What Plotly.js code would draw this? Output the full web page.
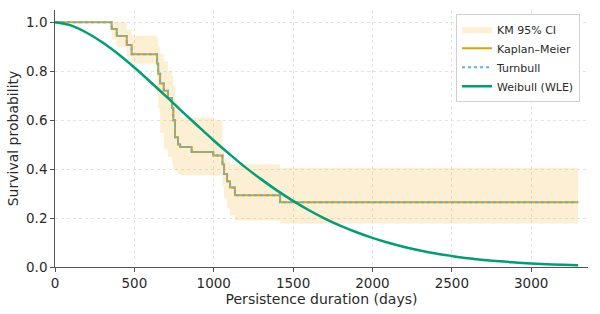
<!DOCTYPE html>
<html>
<head>
<meta charset="utf-8">
<script src="https://cdn.plot.ly/plotly-3.0.1.min.js"></script>
<style>html,body{margin:0;padding:0;background:#fff;}#chart{width:600px;height:314px;}</style>
</head>
<body>
<div id="chart"></div>
<script>
// Kaplan-Meier step data (days, survival, 95% CI)
const kmTimes = [0, 357, 389, 452, 483, 643, 650, 662, 685, 712, 737, 745, 756, 775, 788, 861, 997, 1055, 1065, 1084, 1103, 1134, 1418];
const kmSurv  = [1.0, 0.972, 0.944, 0.907, 0.869, 0.83, 0.79, 0.75, 0.72, 0.69, 0.65, 0.60, 0.53, 0.50, 0.49, 0.47, 0.456, 0.42, 0.38, 0.35, 0.325, 0.293, 0.265];
const kmUpper = [1.0, 1.0, 1.0, 0.97, 0.946, 0.93, 0.90, 0.87, 0.84, 0.80, 0.78, 0.74, 0.68, 0.64, 0.61, 0.61, 0.60, 0.47, 0.44, 0.43, 0.42, 0.42, 0.404];
const kmLower = [1.0, 0.93, 0.90, 0.86, 0.83, 0.70, 0.65, 0.55, 0.48, 0.45, 0.42, 0.40, 0.39, 0.38, 0.375, 0.374, 0.374, 0.33, 0.28, 0.24, 0.21, 0.19, 0.178];
const turnbullSurv = [1.0, 0.972, 0.944, 0.907, 0.869, 0.83, 0.79, 0.75, 0.72, 0.69, 0.65, 0.60, 0.53, 0.50, 0.49, 0.47, 0.456, 0.42, 0.38, 0.35, 0.325, 0.293, 0.265];
const lastTime = 3296;

// Weibull (WLE) fitted curve, every 100 days
const weibullTimes = [0,100,200,300,400,500,600,700,800,900,1000,1100,1200,1300,1400,1500,1600,1700,1800,1900,2000,2100,2200,2300,2400,2500,2600,2700,2800,2900,3000,3100,3200,3296];
const weibullSurv  = [1.0,0.987,0.957,0.917,0.869,0.815,0.757,0.697,0.636,0.576,0.517,0.461,0.407,0.358,0.312,0.270,0.232,0.198,0.168,0.142,0.119,0.099,0.082,0.0675,0.055,0.045,0.036,0.029,0.023,0.0186,0.0146,0.0115,0.009,0.007];

const xTicks = [0, 500, 1000, 1500, 2000, 2500, 3000];
const yTicks = [0, 0.2, 0.4, 0.6, 0.8, 1.0];
const yTickText = ['0.0', '0.2', '0.4', '0.6', '0.8', '1.0'];

// build step polygon for the CI band
function stepPath(ts, vs, end) {
  const xs = [], ys = [];
  for (let i = 0; i < ts.length; i++) {
    const tNext = i + 1 < ts.length ? ts[i + 1] : end;
    xs.push(ts[i], tNext);
    ys.push(vs[i], vs[i]);
  }
  return {xs, ys};
}
const up = stepPath(kmTimes, kmUpper, lastTime);
const lo = stepPath(kmTimes, kmLower, lastTime);
const bandX = up.xs.concat(lo.xs.slice().reverse());
const bandY = up.ys.concat(lo.ys.slice().reverse());

const kmX = kmTimes.concat([lastTime]);
const kmY = kmSurv.concat([kmSurv[kmSurv.length - 1]]);
const tbY = turnbullSurv.concat([turnbullSurv[turnbullSurv.length - 1]]);

const traces = [
  {x: bandX, y: bandY, type: 'scatter', mode: 'lines', fill: 'toself',
   fillcolor: 'rgba(240,180,60,0.22)', line: {width: 0, color: 'rgba(0,0,0,0)'},
   name: 'KM 95% CI', hoverinfo: 'skip'},
  {x: kmX, y: kmY, type: 'scatter', mode: 'lines', line: {shape: 'hv', color: '#E69F00', width: 2},
   name: 'Kaplan\u2013Meier'},
  {x: kmX, y: tbY, type: 'scatter', mode: 'lines', line: {shape: 'hv', color: '#56B4E9', width: 2, dash: '3px,3px'},
   name: 'Turnbull'},
  {x: weibullTimes, y: weibullSurv, type: 'scatter', mode: 'lines', line: {shape: 'spline', color: '#009E73', width: 2.5},
   name: 'Weibull (WLE)'}
];

const axisFont = {family: 'DejaVu Sans, sans-serif', size: 13.5, color: '#2a2a2a'};
const titleFont = {family: 'DejaVu Sans, sans-serif', size: 14, color: '#2a2a2a'};
const layout = {
  width: 600, height: 314,
  margin: {l: 55, r: 12, t: 10, b: 47},
  paper_bgcolor: '#fff', plot_bgcolor: '#fff',
  font: axisFont,
  showlegend: true,
  legend: {x: 0.985, y: 0.985, xanchor: 'right', yanchor: 'top', bgcolor: '#fff',
           bordercolor: '#d0d0d0', borderwidth: 1, font: {family: 'DejaVu Sans, sans-serif', size: 11, color: '#2a2a2a'},
           tracegroupgap: 0},
  xaxis: {range: [0, 3358], tickvals: xTicks, ticktext: xTicks.map(String), ticks: 'outside', ticklen: 3.5,
          tickcolor: '#555', showline: true, linecolor: '#555', linewidth: 1.3, zeroline: false,
          showgrid: true, gridcolor: '#e3e3e3', griddash: 'dot', gridwidth: 1,
          title: {text: 'Persistence duration (days)', font: titleFont, standoff: 2},
          tickfont: axisFont},
  yaxis: {range: [0, 1.05], tickvals: yTicks, ticktext: yTickText, ticks: 'outside', ticklen: 3.5,
          tickcolor: '#555', showline: true, linecolor: '#555', linewidth: 1.3, zeroline: false,
          showgrid: true, gridcolor: '#e3e3e3', griddash: 'dot', gridwidth: 1,
          title: {text: 'Survival probability', font: titleFont, standoff: 4},
          tickfont: axisFont}
};
Plotly.newPlot('chart', traces, layout, {displayModeBar: false, staticPlot: true});
</script>
</body>
</html>
